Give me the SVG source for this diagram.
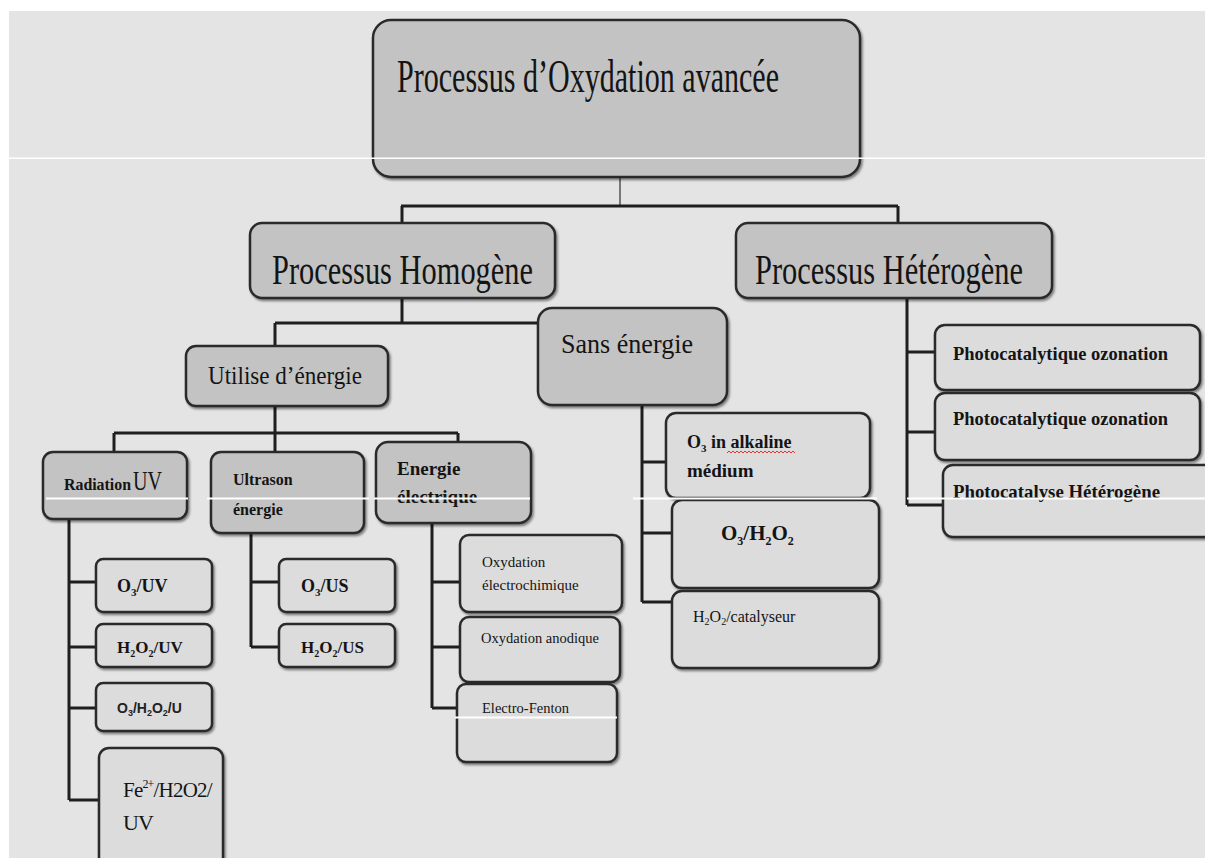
<svg xmlns="http://www.w3.org/2000/svg" width="1205" height="858" viewBox="0 0 1205 858">
<defs>
<filter id="sh" x="-5%" y="-5%" width="115%" height="120%">
<feDropShadow dx="1.5" dy="2" stdDeviation="1" flood-color="#000" flood-opacity="0.45"/>
</filter>
<style>
.n1{fill:#c3c3c3;stroke:#2b2b2b;stroke-width:2.5;filter:url(#sh)}
.n2{fill:#dcdcdc;stroke:#2b2b2b;stroke-width:2.5;filter:url(#sh)}
.c{stroke:#1e1e1e;stroke-width:3;fill:none}
.thin{stroke:#555;stroke-width:1.5;fill:none}
.t{font-family:"Liberation Serif","Times New Roman",serif;fill:#141414}
.s{font-family:"Liberation Sans",Arial,sans-serif;fill:#222}
.b{font-weight:bold}
.art{fill:#ffffff}
</style>
</defs>
<rect x="0" y="0" width="1205" height="858" fill="#ffffff"/>
<rect x="9" y="11" width="1196" height="847" fill="#e4e4e4"/>

<g id="connectors">
<path class="thin" d="M620 177 V205"/>
<path class="c" d="M401 206 H898 M402 206 V223 M898 206 V223"/>
<path class="c" d="M402 298 V323 M275 323 H538 M275 323 V346"/>
<path class="c" d="M275 406 V452 M114 433 H458 M114 433 V452 M458 433 V442"/>
<path class="c" d="M69 519 V800 M69 582 H96 M69 647 H96 M69 708 H96 M69 800 H99"/>
<path class="c" d="M251 533 V647 M251 582 H279 M251 647 H279"/>
<path class="c" d="M432 523 V708 M432 582 H460 M432 647 H460 M432 708 H457"/>
<path class="c" d="M642 405 V602 M642 462 H666 M642 533 H672 M642 602 H672"/>
<path class="c" d="M907 298 V505 M907 352 H935 M907 432 H935 M907 505 H943"/>
</g>

<g id="n-top">
<rect class="n1" x="373" y="20" width="487" height="157" rx="18"/>
<text class="t" x="397" y="92" font-size="46" textLength="382" lengthAdjust="spacingAndGlyphs">Processus d’Oxydation avancée</text>
</g>
<g id="n-homogene">
<rect class="n1" x="250" y="223" width="305" height="75" rx="12"/>
<text class="t" x="272" y="284" font-size="42" textLength="261" lengthAdjust="spacingAndGlyphs">Processus Homogène</text>
</g>
<g id="n-heterogene">
<rect class="n1" x="736" y="223" width="316" height="75" rx="12"/>
<text class="t" x="755" y="284" font-size="42" textLength="268" lengthAdjust="spacingAndGlyphs">Processus Hétérogène</text>
</g>
<g id="n-sans">
<rect class="n1" x="538" y="308" width="189" height="97" rx="14"/>
<text class="t" x="561" y="353" font-size="28" textLength="132" lengthAdjust="spacingAndGlyphs">Sans énergie</text>
</g>
<g id="n-utilise">
<rect class="n1" x="186" y="346" width="202" height="60" rx="10"/>
<text class="t" x="208" y="384" font-size="25" textLength="154" lengthAdjust="spacingAndGlyphs">Utilise d’énergie</text>
</g>
<g id="n-radiation">
<rect class="n1" x="43" y="452" width="144" height="67" rx="10"/>
<text class="t b" x="64" y="490" font-size="17" textLength="67" lengthAdjust="spacingAndGlyphs">Radiation</text>
<text class="t" x="133" y="490" font-size="27" textLength="29" lengthAdjust="spacingAndGlyphs">UV</text>
</g>
<g id="n-ultrason">
<rect class="n1" x="211" y="452" width="153" height="81" rx="10"/>
<text class="t b" x="233" y="485" font-size="16">Ultrason</text>
<text class="t b" x="233" y="515" font-size="16">énergie</text>
</g>
<g id="n-energie">
<rect class="n1" x="376" y="442" width="155" height="81" rx="12"/>
<text class="t b" x="397" y="475" font-size="19">Energie</text>
<text class="t b" x="397" y="503" font-size="19">électrique</text>
</g>

<g id="n-o3uv">
<rect class="n2" x="96" y="559" width="116" height="53" rx="7"/>
<text class="t b" x="117" y="592" font-size="18">O<tspan font-size="11" dy="4">3</tspan><tspan dy="-4">/UV</tspan></text>
</g>
<g id="n-h2o2uv">
<rect class="n2" x="96" y="624" width="116" height="43" rx="7"/>
<text class="t b" x="117" y="653" font-size="17">H<tspan font-size="10" dy="4">2</tspan><tspan dy="-4">O</tspan><tspan font-size="10" dy="4">2</tspan><tspan dy="-4">/UV</tspan></text>
</g>
<g id="n-o3h2o2u">
<rect class="n2" x="96" y="683" width="116" height="48" rx="7"/>
<text class="s b" x="117" y="713" font-size="14">O<tspan font-size="9" dy="3">3</tspan><tspan dy="-3">/H</tspan><tspan font-size="9" dy="3">2</tspan><tspan dy="-3">O</tspan><tspan font-size="9" dy="3">2</tspan><tspan dy="-3">/U</tspan></text>
</g>
<g id="n-fe">
<rect class="n2" x="99" y="748" width="124" height="125" rx="10"/>
<text class="t" x="123" y="797" font-size="21" letter-spacing="-0.8">Fe<tspan font-size="12" dy="-9">2+</tspan><tspan dy="9">/H2O2/</tspan></text>
<text class="t" x="123" y="830" font-size="22" letter-spacing="-0.8">UV</text>
</g>
<g id="n-o3us">
<rect class="n2" x="279" y="559" width="116" height="53" rx="7"/>
<text class="t b" x="301" y="592" font-size="18">O<tspan font-size="11" dy="4">3</tspan><tspan dy="-4">/US</tspan></text>
</g>
<g id="n-h2o2us">
<rect class="n2" x="279" y="624" width="116" height="43" rx="7"/>
<text class="t b" x="301" y="653" font-size="17">H<tspan font-size="10" dy="4">2</tspan><tspan dy="-4">O</tspan><tspan font-size="10" dy="4">2</tspan><tspan dy="-4">/US</tspan></text>
</g>
<g id="n-oxel">
<rect class="n2" x="460" y="535" width="162" height="77" rx="9"/>
<text class="t" x="482" y="567" font-size="15">Oxydation</text>
<text class="t" x="482" y="590" font-size="15">électrochimique</text>
</g>
<g id="n-oxan">
<rect class="n2" x="460" y="617" width="160" height="65" rx="9"/>
<text class="t" x="481" y="643" font-size="14.5">Oxydation anodique</text>
</g>
<g id="n-ef">
<rect class="n2" x="457" y="684" width="160" height="78" rx="9"/>
<text class="t" x="482" y="713" font-size="14.5">Electro-Fenton</text>
</g>
<g id="n-o3alk">
<rect class="n2" x="666" y="413" width="204" height="85" rx="10"/>
<text class="t b" x="687" y="448" font-size="18">O<tspan font-size="11" dy="4">3</tspan><tspan dy="-4"> in alkaline</tspan></text>
<path d="M727 453 l2 -2 l2 2 l2 -2 l2 2 l2 -2 l2 2 l2 -2 l2 2 l2 -2 l2 2 l2 -2 l2 2 l2 -2 l2 2 l2 -2 l2 2 l2 -2 l2 2 l2 -2 l2 2 l2 -2 l2 2 l2 -2 l2 2 l2 -2 l2 2 l2 -2 l2 2 l2 -2 l2 2 l2 -2 l2 2 l2 -2 l2 2" fill="none" stroke="#e03030" stroke-width="1"/>
<text class="t b" x="687" y="477" font-size="19">médium</text>
</g>
<g id="n-o3h2o2">
<rect class="n2" x="672" y="500" width="207" height="88" rx="10"/>
<text class="t b" x="721" y="540" font-size="21">O<tspan font-size="12" dy="5">3</tspan><tspan dy="-5">/H</tspan><tspan font-size="12" dy="5">2</tspan><tspan dy="-5">O</tspan><tspan font-size="12" dy="5">2</tspan></text>
</g>
<g id="n-h2o2cat">
<rect class="n2" x="672" y="591" width="207" height="77" rx="10"/>
<text class="t" x="693" y="622" font-size="16">H<tspan font-size="10" dy="3">2</tspan><tspan dy="-3">O</tspan><tspan font-size="10" dy="3">2</tspan><tspan dy="-3">/catalyseur</tspan></text>
</g>
<g id="n-photo1">
<rect class="n2" x="935" y="325" width="265" height="65" rx="10"/>
<text class="t b" x="953" y="360" font-size="19" textLength="215" lengthAdjust="spacingAndGlyphs">Photocatalytique ozonation</text>
</g>
<g id="n-photo2">
<rect class="n2" x="935" y="393" width="265" height="67" rx="10"/>
<text class="t b" x="953" y="425" font-size="19" textLength="215" lengthAdjust="spacingAndGlyphs">Photocatalytique ozonation</text>
</g>
<g id="n-photo3">
<rect class="n2" x="943" y="465" width="280" height="72" rx="10"/>
<text class="t b" x="953" y="498" font-size="19" textLength="207" lengthAdjust="spacingAndGlyphs">Photocatalyse Hétérogène</text>
</g>

<g id="scan-lines">
<rect class="art" x="9" y="157.5" width="1196" height="1.5"/>
<rect class="art" x="46" y="497.5" width="142" height="2"/>
<rect class="art" x="207" y="497.5" width="162" height="2"/>
<rect class="art" x="374" y="497.5" width="156" height="2"/>
<rect class="art" x="633" y="497.5" width="244" height="2"/>
<rect class="art" x="907" y="497.5" width="298" height="2"/>
<rect class="art" x="455" y="716.5" width="162" height="2"/>
</g>
</svg>
